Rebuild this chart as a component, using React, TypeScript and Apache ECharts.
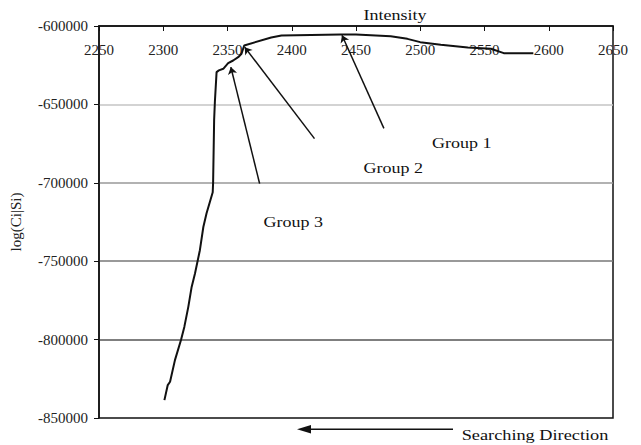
import React, { useEffect, useRef } from "react";
import * as echarts from "echarts";

const intensity = [2300.9, 2303.5, 2305.3, 2309.1, 2313.8, 2316.4, 2319.5, 2322.1, 2324.7, 2328.5, 2331.2, 2333.7, 2338.5, 2338.8, 2339.6, 2340.2, 2341.5, 2343.3, 2346.7, 2350.5, 2354.4, 2358.3, 2360.9, 2363.0, 2384.0, 2392.0, 2438.0, 2450.0, 2477.0, 2490.0, 2500.0, 2516.0, 2537.0, 2555.0, 2565.0, 2588.0];
const logCiSi = [-838600, -829000, -826900, -813100, -800300, -791900, -779100, -766400, -757800, -743000, -728200, -719400, -706000, -700000, -660000, -648000, -629400, -628300, -627300, -623700, -622000, -619900, -617700, -612400, -607300, -606000, -605400, -605400, -606500, -608200, -610300, -612000, -613700, -614500, -617300, -617300];

const groupNames = ["Group 1", "Group 2", "Group 3"];
const arrowTails = [[2471.7, -665300], [2417.7, -671800], [2375.0, -700500]];
const arrowTips = [[2439.1, -605900], [2363.4, -613500], [2352.6, -626200]];

const FONT = "'Liberation Serif', 'Times New Roman', serif";

export default function App() {
  const ref = useRef<HTMLDivElement>(null);
  useEffect(() => {
    if (!ref.current) return;
    const chart = echarts.init(ref.current, null, { renderer: "svg" });
    const lineData = intensity.map((x, i) => [x, logCiSi[i]]);
    const arrows = arrowTails.map((t, i) => ({ coords: [t, arrowTips[i]] }));
    const textStyle = (s: string) => ({ text: s, fill: "#111", font: `15px ${FONT}`, align: "center", verticalAlign: "middle" });
    chart.setOption({
      animation: false,
      backgroundColor: "#fff",
      textStyle: { fontFamily: FONT },
      grid: { left: 97, right: 28, top: 26, bottom: 27, show: true, borderColor: "#111", borderWidth: 1.5, backgroundColor: "transparent" },
      xAxis: {
        type: "value",
        position: "top",
        min: 2250,
        max: 2650,
        interval: 50,
        axisLine: { lineStyle: { color: "#111", width: 1.5 } },
        axisTick: { inside: true, length: 5, lineStyle: { color: "#111" } },
        axisLabel: { inside: true, margin: 16, fontSize: 15, color: "#222", fontFamily: FONT, showMinLabel: true, showMaxLabel: true, formatter: (v: number) => String(v) },
        splitLine: { show: false },
      },
      yAxis: {
        type: "value",
        min: -850000,
        max: -600000,
        interval: 50000,
        name: "log(Ci|Si)",
        nameLocation: "middle",
        nameGap: 76,
        nameTextStyle: { fontSize: 15, color: "#222", fontFamily: FONT },
        axisLine: { show: true, lineStyle: { color: "#111", width: 1.5 } },
        axisTick: { show: true, length: 5, lineStyle: { color: "#111" } },
        axisLabel: { margin: 11, fontSize: 15, color: "#222", fontFamily: FONT, formatter: (v: number) => String(v) },
        splitLine: { show: true, showMinLine: false, showMaxLine: false, lineStyle: { color: ["#555", "#777", "#999", "#c4c4c4"], width: 1.5 } },
      },
      series: [
        {
          type: "line",
          data: lineData,
          showSymbol: false,
          symbol: "none",
          lineStyle: { color: "#111", width: 2 },
          z: 3,
        },
        {
          type: "lines",
          coordinateSystem: "cartesian2d",
          data: arrows,
          symbol: ["none", "arrow"],
          symbolSize: 7,
          lineStyle: { color: "#111", width: 1.5, opacity: 1 },
          z: 4,
        },
      ],
      graphic: [
        { type: "text", x: 395, y: 15, scaleX: 1.2, style: { ...textStyle("Intensity") } },
        { type: "text", x: 461.7, y: 143, scaleX: 1.2, style: { ...textStyle(groupNames[0]) } },
        { type: "text", x: 393.3, y: 168, scaleX: 1.2, style: { ...textStyle(groupNames[1]) } },
        { type: "text", x: 293.3, y: 222, scaleX: 1.2, style: { ...textStyle(groupNames[2]) } },
        { type: "text", x: 535, y: 435.5, scaleX: 1.22, style: { ...textStyle("Searching Direction") } },
        { type: "line", shape: { x1: 308, y1: 429.3, x2: 453, y2: 429.3 }, style: { stroke: "#111", lineWidth: 1.5 } },
        { type: "polygon", shape: { points: [[297, 429.3], [311, 425], [311, 433.6]] }, style: { fill: "#111" } },
      ],
    });
    return () => chart.dispose();
  }, []);
  return <div ref={ref} style={{ position: "fixed", left: 0, top: 0, width: 641, height: 445, background: "#fff" }} />;
}
